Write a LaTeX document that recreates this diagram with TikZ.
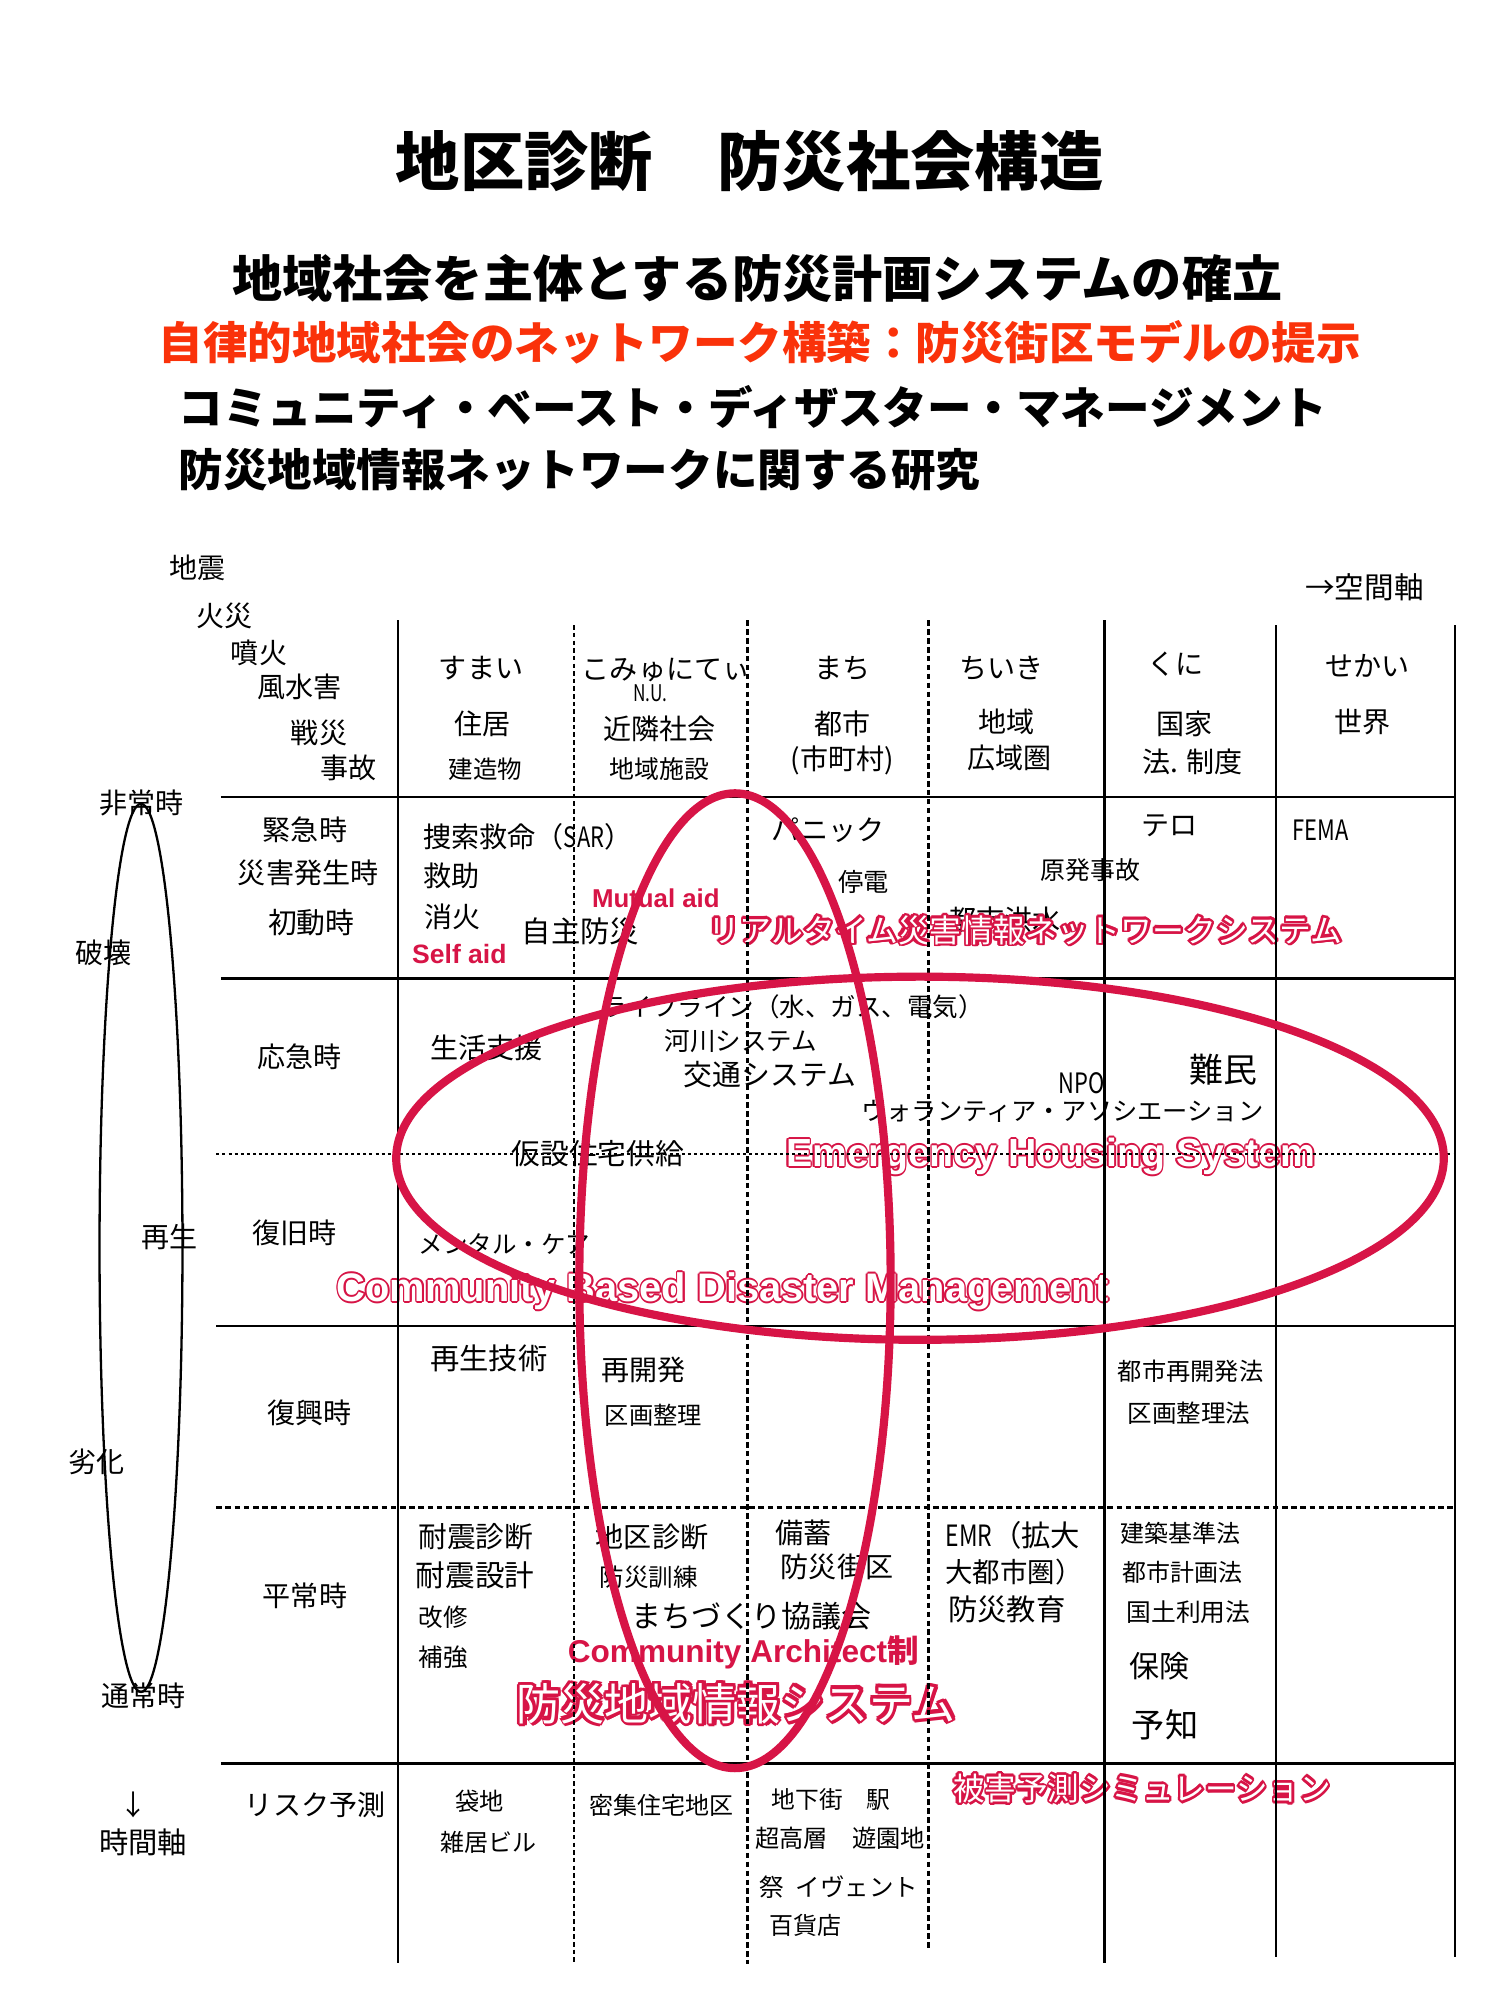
\documentclass[tikz,border=0pt]{standalone}
\usepackage{fontspec}
\usepackage{graphicx}
\setmainfont{Noto Sans CJK JP}
\newfontfamily\lib{Liberation Sans}
\definecolor{crim}{RGB}{215,20,70}
\definecolor{orng}{RGB}{250,50,10}
\newlength\hw
\setlength\hw{0.6pt}
\newcommand\hoff[3]{\rlap{\kern#1\raisebox{#2}{\textcolor{crim}{#3}}}}
\newcommand\hollowgen[2]{\leavevmode\hoff{\hw}{0pt}{#1}\hoff{-\hw}{0pt}{#1}\hoff{0pt}{\hw}{#1}\hoff{0pt}{-\hw}{#1}%
\hoff{0.7\hw}{0.7\hw}{#1}\hoff{-0.7\hw}{0.7\hw}{#1}\hoff{0.7\hw}{-0.7\hw}{#1}\hoff{-0.7\hw}{-0.7\hw}{#1}%
\textcolor{white}{#2}}
\newcommand\nar[1]{\scalebox{0.78}[1]{#1}}
\begin{document}
\begin{tikzpicture}[x=0.5pt,y=-0.5pt,
  tx/.style={inner sep=0pt,outer sep=0pt,execute at begin node={\vphantom{国}}},
  tw/.style={tx,anchor=west,font=\fontsize{#1}{#1}\selectfont},
  tc/.style={tx,anchor=center,font=\fontsize{#1}{#1}\selectfont},
  twb/.style={tx,anchor=west,font=\fontsize{#1}{#1}\selectfont\bfseries},
  tcb/.style={tx,anchor=center,font=\fontsize{#1}{#1}\selectfont\bfseries},
  redlbl/.style={inner sep=0pt,outer sep=0pt},
  solidv/.style={line width=0.85pt},
  solidh/.style={line width=1pt},
  thindash/.style={line width=0.7pt,dash pattern=on 1.8pt off 1.2pt},
  thickdash/.style={line width=1.2pt,dash pattern=on 2.2pt off 1.3pt},
  thindot/.style={line width=0.8pt,dash pattern=on 1.2pt off 1.2pt},
  thickdot/.style={line width=1.2pt,dash pattern=on 2.2pt off 1.4pt},
  redring/.style={draw=crim,line width=3.2pt}]
\fill[white] (0,0) rectangle (1175.5,1567.4);
\useasboundingbox (0,0) rectangle (1175.5,1567.4);

% titles
\node (ttl) [tcb=25.2] at (587.5,126) {地区診断　防災社会構造};
\node (st1) [tcb=19.65] at (593.5,218) {地域社会を主体とする防災計画システムの確立};
\node (st2) [tcb=17.45,text=orng] at (595.5,268) {自律的地域社会のネットワーク構築：防災街区モデルの提示};
\node (st3) [twb=17.45] at (140,318.7) {コミュニティ・ベースト・ディザスター・マネージメント};
\node (st4) [twb=17.45] at (140,368.3) {防災地域情報ネットワークに関する研究};

% disasters
\node (d1) [tw=11] at (133,445) {地震};
\node (d2) [tw=11] at (154,483) {火災};
\node (d3) [tw=11] at (181,512) {噴火};
\node (d4) [tw=11] at (202,538) {風水害};
\node (d5) [tw=11] at (228,574) {戦災};
\node (d6) [tw=11] at (251,602) {事故};
\node (ax) [tw=11.6] at (1023,460) {→空間軸};

% headers
\node (h1a) [tc=11] at (377,524) {すまい};
\node (h1b) [tc=11] at (378,567) {住居};
\node (h1c) [tc=9.6] at (380.5,603) {建造物};
\node (h2a) [tw=11] at (456,525) {こみゅにてぃ};
\node (h2n) [tc=9] at (509.5,543.4) {\scalebox{0.75}[1]{N.U.}};
\node (h2b) [tc=11] at (517,571) {近隣社会};
\node (h2c) [tc=9.75] at (517,603) {地域施設};
\node (h3a) [tc=11] at (660,524) {まち};
\node (h3b) [tc=11] at (660,567) {都市};
\node (h3c) [tc=11] at (660,596) {(市町村)};
\node (h4a) [tc=11] at (785,524) {ちいき};
\node (h4b) [tc=11] at (789,566) {地域};
\node (h4c) [tc=11] at (791,594) {広域圏};
\node (h5a) [tc=11] at (921.5,521) {くに};
\node (h5b) [tc=11] at (928.5,567) {国家};
\node (h5c) [tc=11] at (934.5,597) {法. 制度};
\node (h6a) [tc=11] at (1071.5,522) {せかい};
\node (h6b) [tc=11] at (1067.5,566) {世界};

% time axis labels
\node (l1) [tc=11] at (111,629.6) {非常時};
\node (l2) [tc=11] at (81.5,747) {破壊};
\node (l3) [tc=11] at (133,969) {再生};
\node (l4) [tc=11] at (75.5,1146) {劣化};
\node (l5) [tc=11] at (112.8,1329) {通常時};
\node (l6) [tc=11] at (105,1414.8) {↓};
\node (l7) [tc=11.5] at (112.3,1443.8) {時間軸};

% row labels
\node (r1a) [tc=11] at (239,650) {緊急時};
\node (r1b) [tc=11] at (241.5,684.4) {災害発生時};
\node (r1c) [tc=11.3] at (244,723) {初動時};
\node (r2) [tc=11] at (234.5,828) {応急時};
\node (r3) [tc=11] at (231,966.5) {復旧時};
\node (r4) [tc=11] at (242.5,1107.6) {復興時};
\node (r5) [tc=11] at (239,1250.8) {平常時};
\node (r6) [tc=11] at (247,1414.8) {リスク予測};

% row 1
\node (c11) [tw=11] at (332,655.7) {捜索救命（\nar{SAR}）};
\node (c12) [tw=11] at (332,686.5) {救助};
\node (c13) [tw=11] at (333,718.4) {消火};
\node (c14) [tw=11.5] at (409,730) {自主防災};
\node (c15) [tw=11] at (605,650.5) {パニック};
\node (c16) [tc=9.9] at (677,691) {停電};
\node (c17) [tc=9.75] at (854.5,682) {原発事故};
\node (c18) [tw=11] at (743,721) {都市洪水};
\node (c19) [tc=11] at (916.5,646.6) {テロ};
\node (c110) [tw=11] at (1013,650.5) {\nar{FEMA}};

% row 2
\node (c21) [tw=10] at (471,789) {ライフライン（水、ガス、電気）};
\node (c22) [tw=10] at (521,816) {河川システム};
\node (c23) [tw=11.3] at (536,842.5) {交通システム};
\node (c24) [tw=11] at (337,821.5) {生活支援};
\node (c25) [tc=11] at (847.5,849) {\nar{NPO}};
\node (c26) [tc=13.25] at (958.5,838.5) {難民};
\node (c27) [tw=9.9] at (675,871) {ウォランティア・アソシエーション};

% row 3
\node (c31) [tw=11.25] at (401,904) {仮設住宅供給};
\node (c32) [tw=9.6] at (328,975.7) {メンタル・ケア};

% row 4
\node (c41) [tw=11.5] at (337,1064.5) {再生技術};
\node (c42) [tw=11] at (471,1073.6) {再開発};
\node (c43) [tw=9.5] at (474,1109) {区画整理};
\node (c44) [tw=9.5] at (876,1075) {都市再開発法};
\node (c45) [tw=9.6] at (884,1107.6) {区画整理法};

% row 5
\node (c51) [tw=11.25] at (328,1204.3) {耐震診断};
\node (c52) [tw=11.6] at (326,1234.8) {耐震設計};
\node (c53) [tw=9.6] at (328,1267.6) {改修};
\node (c54) [tw=9.6] at (328,1298.7) {補強};
\node (c55) [tw=11] at (467,1204.3) {地区診断};
\node (c56) [tw=9.6] at (470,1236) {防災訓練};
\node (c57) [tw=11.75] at (495,1266.7) {まちづくり協議会};
\node (c58) [tw=11] at (608,1201.4) {備蓄};
\node (c59) [tw=11] at (612,1227.6) {防災街区};
\node (c510) [tw=11.5] at (741,1203) {\nar{EMR}（拡大};
\node (c511) [tw=10.75] at (741,1232) {大都市圏）};
\node (c512) [tw=11.5] at (743,1261) {防災教育};
\node (c513) [tw=9.4] at (878,1201.4) {建築基準法};
\node (c514) [tw=9.4] at (880,1232.5) {都市計画法};
\node (c515) [tw=9.7] at (883,1263.8) {国土利用法};
\node (c516) [tw=11.75] at (885,1306) {保険};
\node (c517) [tw=13] at (887,1352) {予知};

% row 6
\node (c61) [tc=9.5] at (376,1412) {袋地};
\node (c62) [tc=9.4] at (382.5,1443.8) {雑居ビル};
\node (c63) [tw=9.4] at (462,1414.8) {密集住宅地区};
\node (c64) [tw=9.3] at (605,1410.4) {地下街　駅};
\node (c65) [tw=9.5] at (592,1440.9) {超高層　遊園地};
\node (c66) [tw=9.6] at (595,1478.6) {祭\hspace{0.5em}イヴェント};
\node (c67) [tw=9.4] at (603,1509) {百貨店};

% red labels
\node (rl1) [redlbl,anchor=west] at (555,729) {\resizebox{248.5pt}{!}{\fontsize{12.4}{12.4}\selectfont\hollowgen{\bfseries リアルタイム災害情報ネットワークシステム}{リアルタイム災害情報ネットワークシステム}}};
\node (rl2) [redlbl,anchor=base west] at (464,711) {\resizebox{50pt}{!}{\lib\bfseries\fontsize{10.1}{10.1}\selectfont\textcolor{crim}{Mutual aid}}};
\node (rl3) [redlbl,anchor=base west] at (323,755) {\resizebox{37pt}{!}{\lib\bfseries\fontsize{10.4}{10.4}\selectfont\textcolor{crim}{Self aid}}};
\node (rl4) [redlbl,anchor=base west] at (616,914) {\resizebox{207.5pt}{!}{\lib\fontsize{15.4}{15.4}\selectfont\setlength\hw{0.7pt}\hollowgen{\bfseries Emergency Housing System}{\bfseries Emergency Housing System}}};
\node (rl5) [redlbl,anchor=base west] at (264,1020) {\resizebox{302.5pt}{!}{\lib\fontsize{15.6}{15.6}\selectfont\setlength\hw{0.7pt}\hollowgen{\bfseries Community Based Disaster Management}{\bfseries Community Based Disaster Management}}};
\node (rl6) [redlbl,anchor=base west] at (445,1303) {\resizebox{137.5pt}{!}{\fontsize{12.4}{12.4}\selectfont\bfseries\textcolor{crim}{{\lib Community Architect}制}}};
\node (rl7) [redlbl,anchor=west] at (405,1335) {\resizebox{172pt}{!}{\fontsize{17.2}{17.2}\selectfont\setlength\hw{0.75pt}\hollowgen{\bfseries 防災地域情報システム}{防災地域情報システム}}};
\node (rl8) [redlbl,anchor=west] at (747,1401.7) {\resizebox{148pt}{!}{\fontsize{12.3}{12.3}\selectfont\hollowgen{\bfseries 被害予測シミュレーション}{被害予測シミュレーション}}};

% grid
\draw[solidv] (312,486) -- (312,1538);
\draw[thindash] (450,490) -- (450,1538);
\draw[thickdash] (586,486) -- (586,1539);
\draw[thickdash] (727.3,486) -- (727.3,1528);
\draw[solidv] (865.6,486) -- (865.6,1538);
\draw[solidv] (1000,490) -- (1000,1534);
\draw[solidv] (1140.3,490) -- (1140.3,1534);
\draw[solidh] (173,624.5) -- (1140.3,624.5);
\draw[line width=1.3pt] (173,766.6) -- (1140.3,766.6);
\draw[thindot] (169.5,904.6) -- (1140.3,904.6);
\draw[solidh] (169.5,1039) -- (1140.3,1039);
\draw[thickdot] (169.5,1181.7) -- (1140.3,1181.7);
\draw[solidh] (173,1382) -- (1140.3,1382);

% ellipses
\draw[line width=0.9pt] (110.5,978) ellipse [x radius=32.5, y radius=348];
\draw[redring] (721,907.7) ellipse [x radius=410.5, y radius=142.3];
\draw[redring] (576,1003.7) ellipse [x radius=122, y radius=382];
\end{tikzpicture}
\end{document}
